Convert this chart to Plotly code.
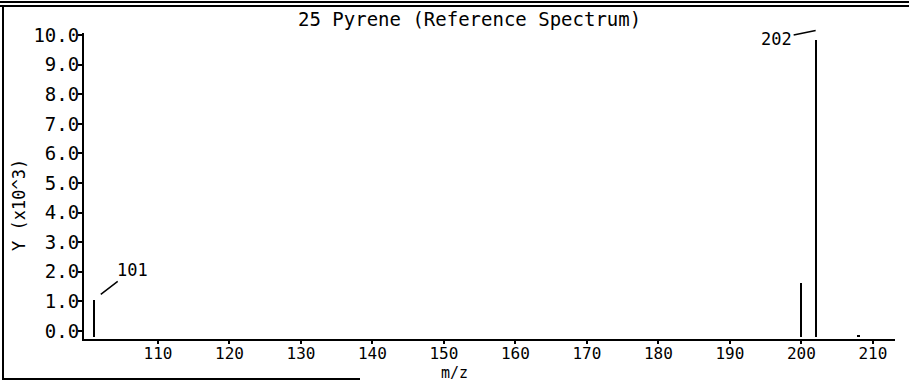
import plotly.graph_objects as go

# ---- data ----
mz = [101, 200, 202, 208]
intensity = [1.05, 1.62, 9.85, -0.12]   # Y (x10^3)
labeled_peaks = [101, 202]
x_ticks = [110, 120, 130, 140, 150, 160, 170, 180, 190, 200, 210]
y_ticks = [0, 1, 2, 3, 4, 5, 6, 7, 8, 9, 10]
title_text = "25 Pyrene (Reference Spectrum)"
x_title = "m/z"
y_title = "Y (x10^3)"

FONT = "DejaVu Sans Mono"
W, H = 909, 381
L, R, T, B = 84, 14, 33, 42

fig = go.Figure()
fig.add_trace(go.Bar(
    x=mz, y=[v + 0.2 for v in intensity], base=-0.2, width=0.3,
    marker=dict(color="black", line=dict(width=0)),
    showlegend=False, hoverinfo="skip",
))

# peak labels with leader lines: (ax, ay, yshift, standoff)
label_style = {101: (39, -30, 0, 9), 202: (-39, 8, 9, 0)}
for p in labeled_peaks:
    v = intensity[mz.index(p)]
    ax, ay, ys, so = label_style[p]
    fig.add_annotation(
        x=p, y=v, text=str(p), showarrow=True, arrowhead=0, arrowwidth=1.5,
        arrowcolor="black", ax=ax, ay=ay, yshift=ys, standoff=so,
        xanchor="center", yanchor="middle",
        font=dict(family=FONT, size=17, color="black"),
    )

pw = W - L - R
ph = H - T - B
def px(x): return (x - L) / pw
def py(y): return (H - B - y) / ph

fig.add_annotation(text=title_text, x=px(469), y=py(19), xref="paper", yref="paper",
                   xanchor="center", yanchor="middle",
                   showarrow=False, font=dict(family=FONT, size=19, color="black"))
fig.add_annotation(text=x_title, x=px(454), y=py(372.5), xref="paper", yref="paper",
                   xanchor="center", yanchor="middle",
                   showarrow=False, font=dict(family=FONT, size=15, color="black"))
fig.add_annotation(text=y_title, x=px(19), y=py(205), xref="paper", yref="paper",
                   xanchor="center", yanchor="middle",
                   showarrow=False, textangle=-90,
                   font=dict(family=FONT, size=17, color="black"))

# scanned-page frame lines
line = dict(color="black", width=2)
fig.add_shape(type="line", xref="paper", yref="paper", x0=px(0), x1=px(909), y0=py(2), y1=py(2), line=line)
fig.add_shape(type="line", xref="paper", yref="paper", x0=px(0), x1=px(909), y0=py(6), y1=py(6), line=line)
fig.add_shape(type="line", xref="paper", yref="paper", x0=px(3), x1=px(3), y0=py(6), y1=py(380), line=line)
fig.add_shape(type="line", xref="paper", yref="paper", x0=px(3), x1=px(360), y0=py(379), y1=py(379), line=line)

fig.update_layout(
    width=W, height=H,
    margin=dict(l=L, r=R, t=T, b=B),
    paper_bgcolor="white", plot_bgcolor="white",
    font=dict(family=FONT, size=18, color="black"),
    bargap=0,
    xaxis=dict(range=[99.65, 213.1], tickvals=x_ticks, ticks="outside", ticklen=3,
               tickwidth=1.5, tickcolor="black", showline=True, linecolor="black",
               linewidth=2, showgrid=False, zeroline=False, ticklabelstandoff=-4,
               tickfont=dict(family=FONT, size=16, color="black")),
    yaxis=dict(range=[-0.27, 10.07], tickvals=y_ticks, tickformat=".1f",
               ticks="outside", ticklen=4, tickwidth=1.5, tickcolor="black",
               showline=True, linecolor="black", linewidth=2, showgrid=False,
               zeroline=False, ticklabelstandoff=-5,
               tickfont=dict(family=FONT, size=19, color="black")),
)

fig.write_html("out.html", post_script="document.body.style.margin='0';",
               config={"displayModeBar": False})
